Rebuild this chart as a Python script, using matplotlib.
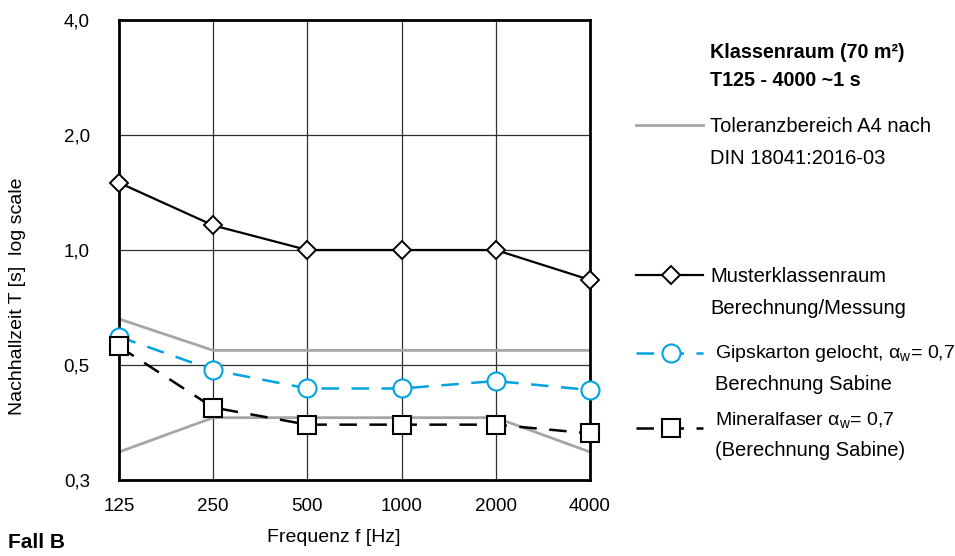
import numpy as np
import matplotlib
matplotlib.use('Agg')
import matplotlib.pyplot as plt
from matplotlib.lines import Line2D
from matplotlib.ticker import FixedLocator, FixedFormatter

plt.rcParams['font.family'] = ['Liberation Sans', 'DejaVu Sans']
plt.rcParams['mathtext.fontset'] = 'custom'
plt.rcParams['mathtext.rm'] = 'Liberation Sans'

# Daten
freq = ['125', '250', '500', '1000', '2000', '4000']
muster = [1.50, 1.16, 1.0, 1.0, 1.0, 0.835]
gips = [0.593, 0.485, 0.434, 0.434, 0.454, 0.430]
mineral = [0.559, 0.387, 0.349, 0.349, 0.349, 0.331]
tol_oben = [0.66, 0.546, 0.546, 0.546, 0.546, 0.546]
tol_unten = [0.296, 0.364, 0.364, 0.364, 0.364, 0.296]
y_ticks = [0.25, 0.5, 1.0, 2.0, 4.0]
y_labels = ['0,3', '0,5', '1,0', '2,0', '4,0']

blau = '#00A3E0'
grau = '#A6A6A6'
W, H = 955, 556
fs = 14

fig = plt.figure(figsize=(9.55, 5.56), dpi=100)
ax = fig.add_axes([119 / W, 1 - 480 / H, (590 - 119) / W, (480 - 20) / H])
x = np.arange(len(freq))

ax.set_yscale('log', base=2)
ax.set_ylim(0.25, 4.0)
ax.set_xlim(0, len(freq) - 1)

# Gitter
for xi in x[1:-1]:
    ax.axvline(xi, color='#303030', lw=0.9, zorder=1)
for yv in [0.5, 1.0, 2.0]:
    ax.axhline(yv, color='#303030', lw=0.9, zorder=1)

# Toleranzbereich
ax.plot(x, tol_oben, color=grau, lw=2, zorder=2)
ax.plot(x, tol_unten, color=grau, lw=2, zorder=2)

ax.plot(x, muster, color='black', lw=1.6, marker='D', ms=9, mfc='white',
        mec='black', mew=1.4, zorder=4, clip_on=False)
ax.plot(x, gips, color=blau, lw=1.8, dashes=(7, 5), marker='o', ms=13, mfc='white',
        mec=blau, mew=1.5, zorder=4, clip_on=False)
ax.plot(x, mineral, color='black', lw=1.8, dashes=(7, 5), marker='s', ms=13, mfc='white',
        mec='black', mew=1.5, zorder=5, clip_on=False)

ax.yaxis.set_major_locator(FixedLocator(y_ticks))
ax.yaxis.set_major_formatter(FixedFormatter(y_labels))
ax.yaxis.set_minor_locator(FixedLocator([]))
ax.set_xticks(x)
ax.set_xticklabels(freq)
ax.tick_params(axis='both', length=0, labelsize=13.5)
ax.tick_params(axis='y', pad=21)
ax.tick_params(axis='x', pad=13)
for s in ax.spines.values():
    s.set_linewidth(2)
    s.set_color('black')
    s.set_zorder(3)

fig.text(18 / W, 1 - 296 / H, 'Nachhallzeit T [s]  log scale', rotation=90,
         ha='center', va='center', fontsize=fs)
fig.text(334 / W, 1 - 538 / H, 'Frequenz f [Hz]', ha='center', va='center', fontsize=fs)
fig.text(8 / W, 1 - 543 / H, 'Fall B', ha='left', va='center', fontsize=15, fontweight='bold')

# Legende
fig.text(710 / W, 1 - 52 / H, 'Klassenraum (70 m²)', ha='left', va='center',
         fontsize=14.2, fontweight='bold')
fig.text(710 / W, 1 - 81 / H, 'T125 - 4000 ~1 s', ha='left', va='center',
         fontsize=14.2, fontweight='bold')


def leg_line(y, **kw):
    fig.add_artist(Line2D([636 / W, 703 / W], [1 - y / H, 1 - y / H],
                          transform=fig.transFigure, **kw))


def leg_marker(y, **kw):
    fig.add_artist(Line2D([671 / W], [1 - y / H], transform=fig.transFigure,
                          linestyle='none', **kw))


leg_line(125, color=grau, lw=2)
fig.text(710 / W, 1 - 126 / H, 'Toleranzbereich A4 nach', ha='left', va='center', fontsize=14.5)
fig.text(710 / W, 1 - 158 / H, 'DIN 18041:2016-03', ha='left', va='center', fontsize=14.5)

leg_line(275, color='black', lw=1.6)
leg_marker(275, marker='D', ms=9, mfc='white', mec='black', mew=1.4)
fig.text(710 / W, 1 - 276 / H, 'Musterklassenraum', ha='left', va='center', fontsize=14.5)
fig.text(710 / W, 1 - 308 / H, 'Berechnung/Messung', ha='left', va='center', fontsize=14.5)

leg_line(353, color=blau, lw=1.8, dashes=(7, 5))
leg_marker(353, marker='o', ms=13, mfc='white', mec=blau, mew=1.5)
fig.text(715 / W, 1 - 353 / H, r'Gipskarton gelocht, α$_{\mathregular{w}}$= 0,7',
         ha='left', va='center', fontsize=14)
fig.text(715 / W, 1 - 385 / H, 'Berechnung Sabine', ha='left', va='center', fontsize=14.5)

leg_line(428, color='black', lw=1.8, dashes=(7, 5))
leg_marker(428, marker='s', ms=13, mfc='white', mec='black', mew=1.5)
fig.text(715 / W, 1 - 421 / H, r'Mineralfaser α$_{\mathregular{w}}$= 0,7',
         ha='left', va='center', fontsize=14)
fig.text(715 / W, 1 - 451 / H, '(Berechnung Sabine)', ha='left', va='center', fontsize=14.5)

fig.savefig('out.png', dpi=100)
